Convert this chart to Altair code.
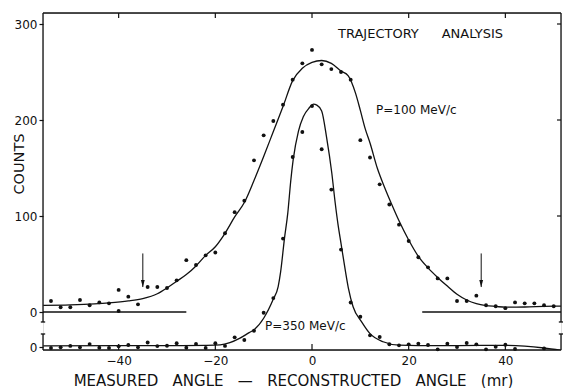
import altair as alt
import pandas as pd

# ---------------- data ----------------
# P = 100 MeV/c  (measured points, counts on the main axis)
upper_angle = [-54, -52, -50, -48, -46, -44, -42, -40, -40, -38, -36, -34, -32, -30,
               -28, -26, -24, -22, -20, -18, -16, -14, -12, -10, -8, -6, -4, -2, 0,
               2, 4, 6, 8, 10, 12, 14, 16, 18, 20, 22, 24, 26, 28, 30, 32, 34, 36,
               38, 40, 42, 44, 46, 48, 50]
upper_counts = [11.5, 5, 5, 12.5, 7, 10, 9, 23, 1, 16, 8, 26, 26, 25,
                33, 54, 49, 59, 62, 82, 104, 116, 158, 184, 199, 216, 242, 259, 273,
                258, 253, 250, 242, 179, 161, 133, 112, 91, 74, 57, 46.5, 35, 35, 11.5,
                11.5, 17, 7, 6, 4, 10, 9, 9, 7, 6]

# fitted curve, P = 100 MeV/c
upper_fit_angle = [-55.6, -50, -45, -42, -38, -35, -32, -30, -28, -26, -24, -22, -20,
                   -18, -16, -14, -12, -10, -8, -6, -4, -2, 0, 2, 4, 6, 7.5, 9, 10,
                   11, 12, 13.5, 15, 16.5, 18, 20, 22, 24, 26, 28, 30, 32, 34, 36,
                   38, 40, 44, 48, 51.5]
upper_fit_counts = [7, 7.5, 8.5, 9.5, 11.5, 14, 19, 25, 32, 39, 48, 59, 68,
                    82, 99, 114, 137, 162, 188, 214, 241, 254, 260, 262, 259, 251, 246, 228, 210,
                    191, 176, 150, 130, 112, 95, 75, 58, 46, 36, 27, 18.5, 12.5, 8.7, 6.7,
                    5.8, 5, 5.2, 5.8, 6.2]

# P = 350 MeV/c  (measured points, counts above its own zero line)
lower_angle = [-54, -52, -50, -48, -46, -44, -42, -40, -38, -36, -34, -32, -30, -28,
               -26, -24, -22, -20, -18, -16, -14, -12, -10, -8, -6, -4, -2, 0, 2, 4,
               6, 8, 10, 12, 14, 16, 18, 20, 22, 24, 26, 28, 30, 32, 34, 36, 38, 40,
               42, 48]
lower_counts = [-1, -0.3, 1.2, -0.3, 3.1, -0.7, -1, 0.7, 2.1, -0.3, 4.7, 1, 1.4, 4,
                -0.7, 3.3, -1, 3.9, 1.2, 10.1, 7.3, 17, 35.7, 51, 113, 198, 224, 251, 206, 164,
                101.5, 46.4, 31.6, 12.2, 10.4, 2.9, 1.8, 2.8, 3.6, 2.1, -2.4, 3.4, 0, 4.2,
                2.8, -2.4, 0.3, 2.4, -2.1, -1.4]

# fitted curve, P = 350 MeV/c
lower_fit_angle = [-55.6, -40, -30, -22, -19, -17, -15, -13, -12, -10, -8, -7, -6.5,
                   -5.7, -5, -4.4, -3.9, -2.8, -1.8, -0.6, 0.3, 1, 2, 3, 4.1, 4.8, 5.4,
                   6, 6.5, 7.5, 8.5, 10.3, 12, 14.7, 18, 22, 30, 40, 44, 48, 51.5]
lower_fit_counts = [1.3, 1.4, 1.5, 1.8, 2.2, 4.5, 9, 15, 18, 30, 50, 63, 78,
                    113, 140, 173, 195, 225, 240, 249, 253, 252, 246, 219, 181, 150, 127,
                    108, 92, 62, 42, 26, 14, 5.5, 2, 1.5, 1.5, 1.8, 1, -1, -3.5]

x_ticks = [-40, -20, 0, 20, 40]
y_ticks = [0, 100, 200, 300]
arrow_angle = [-35, 35]
arrow_from = 61
arrow_to = 26

# ---------------- layout / style ----------------
LOWER_ZERO = -36.5          # where the P=350 curve has its zero on the count axis
X_DOMAIN = [-55.65, 51.51]
Y_DOMAIN = [-39.58, 311.46]
BREAK_UP, BREAK_DN = -10.4, -22.9
W, H = 518, 337
FONT = "DejaVu Sans"
INK = "#111111"

xs = alt.Scale(domain=X_DOMAIN, nice=False, zero=False)
ys = alt.Scale(domain=Y_DOMAIN, nice=False, zero=False)

AX_X = alt.Axis(values=x_ticks, ticks=False, domain=False, grid=False, title=None,
                labelPadding=5, labelFont=FONT, labelFontSize=12,
                labelColor=INK, labelFlush=False)
AX_Y = alt.Axis(values=[LOWER_ZERO] + y_ticks, domain=False, grid=False, title=None,
                tickSize=4, tickColor=INK, tickWidth=1.2, labelPadding=2,
                labelFont=FONT, labelFontSize=12, labelColor=INK,
                labelOverlap=False, labelFlush=False,
                labelExpr="datum.value < -10 ? '0' : datum.label")


def X(f):
    return alt.X(f, scale=xs, axis=AX_X, title=None)


def Y(f):
    return alt.Y(f, scale=ys, axis=AX_Y, title=None)


up_df = pd.DataFrame({"a": upper_angle, "c": upper_counts})
lo_df = pd.DataFrame({"a": lower_angle, "c": [v + LOWER_ZERO for v in lower_counts]})
upf_df = pd.DataFrame({"a": upper_fit_angle, "c": upper_fit_counts})
lof_df = pd.DataFrame({"a": lower_fit_angle, "c": [v + LOWER_ZERO for v in lower_fit_counts]})

x0, x1 = X_DOMAIN
y0, y1 = Y_DOMAIN
hk = 0.45
frame_df = pd.DataFrame([
    dict(xa=x0, xb=x1, ya=y1, yb=y1),
    dict(xa=x0, xb=x1, ya=y0, yb=y0),
    dict(xa=x0, xb=x0, ya=BREAK_UP, yb=y1),
    dict(xa=x0, xb=x0, ya=y0, yb=BREAK_DN),
    dict(xa=x1, xb=x1, ya=BREAK_UP, yb=y1),
    dict(xa=x1, xb=x1, ya=y0, yb=BREAK_DN),
    dict(xa=x0 - hk, xb=x0 + hk, ya=BREAK_UP, yb=BREAK_UP),
    dict(xa=x0 - hk, xb=x0 + hk, ya=BREAK_DN, yb=BREAK_DN),
    dict(xa=x1 - hk, xb=x1 + hk, ya=BREAK_UP, yb=BREAK_UP),
    dict(xa=x1 - hk, xb=x1 + hk, ya=BREAK_DN, yb=BREAK_DN),
    dict(xa=x0, xb=-26.0, ya=0, yb=0),
    dict(xa=22.8, xb=x1, ya=0, yb=0),
])

frame = alt.Chart(frame_df).mark_rule(color=INK, strokeWidth=1.3).encode(
    x=X("xa:Q"), x2="xb:Q", y=Y("ya:Q"), y2="yb:Q")

tick_df = pd.DataFrame({"a": x_ticks})
top_ticks = alt.Chart(tick_df).mark_rule(color=INK, strokeWidth=1.2).encode(
    x=X("a:Q"), y=alt.value(0), y2=alt.value(5))
bot_ticks = alt.Chart(tick_df).mark_rule(color=INK, strokeWidth=1.2).encode(
    x=X("a:Q"), y=alt.value(H - 6), y2=alt.value(H))
right_ticks = alt.Chart(pd.DataFrame({"c": y_ticks[1:]})).mark_rule(color=INK, strokeWidth=1.2).encode(
    y=Y("c:Q"), x=alt.value(W - 4), x2=alt.value(W))

up_pts = alt.Chart(up_df).mark_circle(size=15, color=INK, opacity=1).encode(
    x=X("a:Q"), y=Y("c:Q"))
lo_pts = alt.Chart(lo_df).mark_circle(size=15, color=INK, opacity=1).encode(
    x=X("a:Q"), y=Y("c:Q"))

up_fit = alt.Chart(upf_df).mark_line(interpolate="monotone", color=INK, strokeWidth=1.3, clip=True).encode(
    x=X("a:Q"), y=Y("c:Q"))
lo_fit = alt.Chart(lof_df).mark_line(interpolate="monotone", color=INK, strokeWidth=1.3, clip=True).encode(
    x=X("a:Q"), y=Y("c:Q"))

arr_df = pd.DataFrame({"a": arrow_angle, "top": [arrow_from] * 2, "tip": [arrow_to] * 2,
                       "head": [arrow_to + 3.5 / 0.96] * 2})
arr_line = alt.Chart(arr_df).mark_rule(color=INK, strokeWidth=1).encode(
    x=X("a:Q"), y=Y("top:Q"), y2="tip:Q")
arr_head = alt.Chart(arr_df).mark_point(shape="M-0.55,-1L0,1L0.55,-1Z", filled=True, size=49,
                                        color=INK, opacity=1).encode(
    x=X("a:Q"), y=Y("head:Q"))


def label(txt, px, py, size, align="left", angle=0):
    kw = dict(align=align, baseline="middle", font=FONT, fontSize=size, color=INK)
    if angle:
        kw["angle"] = angle
    return alt.Chart(pd.DataFrame({"t": [txt]})).mark_text(**kw).encode(
        x=alt.value(px), y=alt.value(py), text="t:N")


nb = "\u00a0"
texts = [
    label("TRAJECTORY", 295, 21, 13),
    label("ANALYSIS", 398.7, 21, 13),
    label("P=100 MeV/c", 333, 97, 12),
    label("P=350 MeV/c", 222, 312.7, 12),
    label("COUNTS", -23, 151, 14.5, align="center", angle=270),
    label(f"MEASURED{nb*3}ANGLE{nb*3}—{nb*3}RECONSTRUCTED{nb*3}ANGLE{nb*3}(mr)",
          250.5, 367.5, 15, align="center"),
]

chart = alt.layer(up_pts, frame, top_ticks, bot_ticks, right_ticks, lo_pts,
                  up_fit, lo_fit, arr_line, arr_head, *texts).properties(
    width=W, height=H,
    autosize=alt.AutoSizeParams(type="none"),
    padding={"left": 43, "top": 13, "right": 2, "bottom": 38},
).configure_view(stroke=None).configure(background="white")

chart.save("out.html", embed_options={"renderer": "svg", "actions": False})
